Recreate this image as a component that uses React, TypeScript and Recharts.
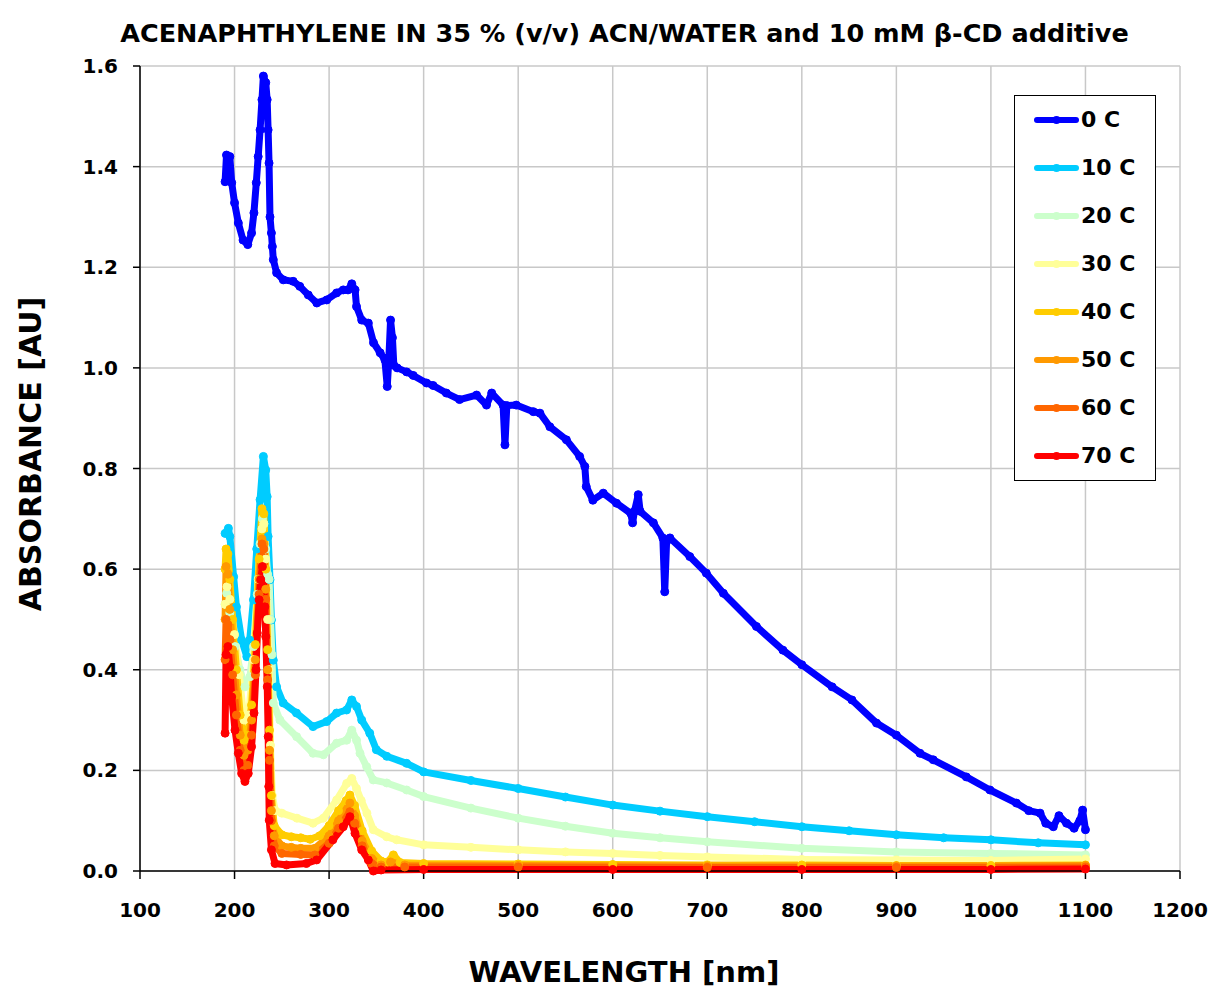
import { LineChart, Line, XAxis, YAxis, CartesianGrid } from 'recharts';

// wavelength [nm] / absorbance [AU] pairs, one pair of arrays per temperature
const wl0 = [190, 191.5, 195, 197, 200, 204, 209, 214, 218, 220.5, 223, 225, 227, 229, 230.5, 233, 234.5, 235.5, 236.5, 237.5, 239, 240, 241, 244.5, 251.5, 262, 269, 278, 287, 297.5, 308, 315, 320, 324, 327.5, 329, 334.5, 341.5, 347, 354, 359, 361.5, 363, 365, 367, 368.5, 372, 382, 389, 403, 410, 424, 438, 456, 466.5, 472, 484, 486, 488, 498, 516, 523, 533.5, 551, 565, 570.5, 572, 579, 590, 604, 619, 621, 623, 627, 629, 643, 653, 655, 657, 660.5, 681.5, 699, 717, 752, 780, 800, 832, 853, 879, 900, 925, 939, 974, 999, 1027, 1040, 1052, 1058, 1066, 1072, 1080, 1088, 1094, 1097, 1100];
const abs0 = [1.37, 1.423, 1.42, 1.368, 1.328, 1.288, 1.254, 1.245, 1.268, 1.308, 1.368, 1.42, 1.473, 1.533, 1.58, 1.567, 1.533, 1.473, 1.407, 1.3, 1.268, 1.241, 1.215, 1.189, 1.175, 1.172, 1.162, 1.145, 1.129, 1.135, 1.149, 1.155, 1.155, 1.167, 1.155, 1.122, 1.095, 1.089, 1.05, 1.03, 1.016, 0.963, 1.01, 1.095, 1.06, 1.005, 1.0, 0.992, 0.985, 0.97, 0.965, 0.95, 0.937, 0.946, 0.926, 0.95, 0.926, 0.847, 0.925, 0.926, 0.913, 0.91, 0.883, 0.857, 0.824, 0.804, 0.764, 0.737, 0.751, 0.731, 0.711, 0.692, 0.715, 0.748, 0.715, 0.692, 0.662, 0.555, 0.655, 0.662, 0.625, 0.592, 0.552, 0.486, 0.439, 0.41, 0.366, 0.34, 0.294, 0.27, 0.234, 0.221, 0.187, 0.161, 0.135, 0.12, 0.115, 0.095, 0.088, 0.11, 0.095, 0.085, 0.1, 0.121, 0.082];

const wl10 = [190, 193.5, 195, 199, 202, 207.5, 213, 216, 220, 223.5, 227, 230.5, 233, 234.5, 235.5, 237.5, 239, 241, 244.5, 251.5, 265.5, 283, 297.5, 308, 318.5, 324, 329, 334.5, 343, 350, 361, 382, 400, 450, 500, 550, 600, 650, 700, 750, 800, 850, 900, 950, 1000, 1050, 1100];
const abs10 = [0.671, 0.681, 0.665, 0.585, 0.525, 0.459, 0.426, 0.459, 0.539, 0.64, 0.738, 0.824, 0.797, 0.744, 0.665, 0.579, 0.499, 0.419, 0.366, 0.334, 0.314, 0.287, 0.297, 0.314, 0.32, 0.34, 0.327, 0.3, 0.274, 0.241, 0.228, 0.214, 0.197, 0.18, 0.164, 0.147, 0.131, 0.119, 0.108, 0.098, 0.088, 0.08, 0.072, 0.066, 0.062, 0.056, 0.052];

const wl20 = [190, 191.7, 195, 200.5, 205.8, 211, 216.3, 220, 224, 227, 229.5, 231, 233, 235, 236.5, 238, 239.5, 241, 248, 265.7, 283, 294, 308, 318.6, 324, 329, 332.7, 339.8, 346.7, 361, 382, 400, 450, 500, 550, 600, 650, 700, 800, 900, 1000, 1100];
const abs20 = [0.53, 0.552, 0.513, 0.446, 0.4, 0.366, 0.386, 0.446, 0.55, 0.65, 0.7, 0.69, 0.64, 0.59, 0.58, 0.5, 0.43, 0.334, 0.3, 0.267, 0.234, 0.231, 0.254, 0.26, 0.28, 0.26, 0.234, 0.207, 0.181, 0.175, 0.161, 0.148, 0.125, 0.105, 0.089, 0.075, 0.066, 0.058, 0.045, 0.038, 0.035, 0.032];

const wl30 = [190, 192, 195, 200, 205, 210, 215, 220, 225, 229, 231, 233, 235, 236.5, 238, 240, 243, 250, 266, 283, 294, 308, 318.6, 324, 329, 334, 340, 346.8, 361, 371.5, 400, 450, 500, 550, 600, 650, 700, 800, 900, 1000, 1100];
const abs30 = [0.53, 0.565, 0.54, 0.47, 0.39, 0.3, 0.31, 0.42, 0.58, 0.68, 0.69, 0.62, 0.5, 0.4, 0.25, 0.15, 0.12, 0.115, 0.105, 0.095, 0.105, 0.141, 0.174, 0.184, 0.164, 0.14, 0.115, 0.082, 0.068, 0.062, 0.052, 0.047, 0.042, 0.038, 0.035, 0.031, 0.028, 0.023, 0.022, 0.021, 0.024];

const wl40 = [190, 191, 193, 195, 198, 202, 206, 210, 214, 218, 222, 226, 229, 231, 233, 235, 237, 239, 242, 250, 260, 270, 280, 290, 300, 310, 318, 322, 327, 335, 345, 355, 362, 368, 375, 400, 500, 600, 700, 800, 900, 1000, 1100];
const abs40 = [0.6, 0.64, 0.63, 0.58, 0.5, 0.4, 0.31, 0.26, 0.27, 0.33, 0.45, 0.62, 0.72, 0.71, 0.6, 0.44, 0.28, 0.15, 0.09, 0.072, 0.068, 0.066, 0.063, 0.07, 0.09, 0.12, 0.14, 0.151, 0.13, 0.08, 0.04, 0.02, 0.018, 0.032, 0.017, 0.015, 0.014, 0.013, 0.012, 0.012, 0.011, 0.011, 0.012];

const wl50 = [190, 191, 193, 195, 198, 202, 206, 210, 214, 218, 222, 226, 229, 231, 233, 235, 237, 239, 242, 250, 260, 270, 285, 300, 310, 322, 327, 335, 345, 355, 365, 380, 500, 700, 900, 1100];
const abs50 = [0.5, 0.605, 0.59, 0.52, 0.44, 0.35, 0.27, 0.23, 0.24, 0.3, 0.42, 0.58, 0.66, 0.65, 0.56, 0.4, 0.24, 0.12, 0.07, 0.05, 0.047, 0.045, 0.045, 0.07, 0.1, 0.135, 0.11, 0.06, 0.025, 0.012, 0.018, 0.012, 0.011, 0.01, 0.01, 0.011];

const wl60 = [190, 191, 193, 195, 198, 202, 206, 210, 214, 218, 222, 226, 229, 231, 233, 235, 237, 239, 242, 250, 270, 285, 300, 310, 322, 327, 335, 345, 355, 380, 500, 700, 900, 1100];
const abs60 = [0.42, 0.5, 0.49, 0.46, 0.39, 0.31, 0.24, 0.2, 0.21, 0.27, 0.39, 0.55, 0.65, 0.64, 0.54, 0.38, 0.22, 0.1, 0.05, 0.035, 0.033, 0.032, 0.055, 0.085, 0.118, 0.095, 0.05, 0.015, 0.008, 0.008, 0.008, 0.007, 0.007, 0.008];

const wl70 = [190, 191, 193, 195, 197, 200.5, 204, 207.5, 211, 214.5, 218, 220.6, 222.7, 224, 226, 227.6, 229.5, 232, 233, 234.6, 235.6, 236.2, 236.7, 239, 242.8, 255, 276, 286.8, 304, 315, 322, 327.4, 334.5, 341.5, 346.8, 355, 400, 600, 800, 1000, 1100];
const abs70 = [0.274, 0.43, 0.446, 0.406, 0.346, 0.28, 0.234, 0.194, 0.178, 0.194, 0.247, 0.314, 0.4, 0.473, 0.539, 0.579, 0.605, 0.525, 0.466, 0.366, 0.267, 0.168, 0.101, 0.042, 0.015, 0.012, 0.015, 0.022, 0.062, 0.088, 0.108, 0.075, 0.042, 0.022, 0.0, 0.002, 0.003, 0.003, 0.003, 0.003, 0.004];

const seriesNames = ['0 C', '10 C', '20 C', '30 C', '40 C', '50 C', '60 C', '70 C'];
const seriesColors = ['#0000ff', '#00ccff', '#ccffcc', '#ffff99', '#ffcc00', '#ff9900', '#ff6600', '#ff0000'];
const wavelengths = [wl0, wl10, wl20, wl30, wl40, wl50, wl60, wl70];
const absorbances = [abs0, abs10, abs20, abs30, abs40, abs50, abs60, abs70];

const xTicks = [100, 200, 300, 400, 500, 600, 700, 800, 900, 1000, 1100, 1200];
const yTicks = [0, 0.2, 0.4, 0.6, 0.8, 1.0, 1.2, 1.4, 1.6];

const FONT = '"DejaVu Sans", sans-serif';

const series = seriesNames.map((name, i) => ({
    name,
    color: seriesColors[i],
    data: wavelengths[i].map((x, j) => ({ x, y: absorbances[i][j] })),
}));

// legend drawn as an overlay so it doesn't eat into the plot area
const LegendBox = () => (
    <div
        style={{
            position: 'absolute',
            left: 1014,
            top: 95,
            width: 140,
            border: '1.5px solid #000',
            background: '#fff',
            fontFamily: FONT,
            fontWeight: 'bold',
            fontSize: 22,
            color: '#000',
        }}
    >
        {series.map((s) => (
            <div key={s.name} style={{ height: 48, display: 'flex', alignItems: 'center' }}>
                <svg width={66} height={48}>
                    <line x1={22} y1={24} x2={61} y2={24} stroke={s.color} strokeWidth={6} strokeLinecap="round" />
                    <circle cx={41.5} cy={24} r={4} fill={s.color} />
                </svg>
                <span style={{ lineHeight: '48px' }}>{s.name}</span>
            </div>
        ))}
    </div>
);

export default function App() {
    return (
        <div style={{ position: 'absolute', left: 0, top: 0, width: 1215, height: 990, background: '#fff' }}>
            <LineChart width={1215} height={990} margin={{ top: 66, right: 35, left: 40, bottom: 59 }}>
                <CartesianGrid stroke="#c8c8c8" strokeWidth={1.5} />
                <XAxis
                    type="number"
                    dataKey="x"
                    domain={[100, 1200]}
                    ticks={xTicks}
                    height={60}
                    stroke="#000"
                    strokeWidth={1.5}
                    tickSize={8}
                    tickMargin={24}
                    tick={{ fontSize: 20, fontWeight: 'bold', fontFamily: FONT, fill: '#000' }}
                />
                <YAxis
                    type="number"
                    dataKey="y"
                    domain={[0, 1.6]}
                    ticks={yTicks}
                    width={100}
                    stroke="#000"
                    strokeWidth={1.5}
                    tickSize={7}
                    tickMargin={15}
                    tickFormatter={(v: number) => v.toFixed(1)}
                    tick={{ fontSize: 20, fontWeight: 'bold', fontFamily: FONT, fill: '#000' }}
                />
                {series.map((s) => (
                    <Line
                        key={s.name}
                        data={s.data}
                        dataKey="y"
                        name={s.name}
                        type="linear"
                        stroke={s.color}
                        strokeWidth={7}
                        strokeLinejoin="round"
                        dot={{ r: 4, fill: s.color, stroke: s.color, strokeWidth: 1 }}
                        isAnimationActive={false}
                    />
                ))}
            </LineChart>
            <LegendBox />
            <svg
                width={1215}
                height={990}
                style={{ position: 'absolute', left: 0, top: 0, pointerEvents: 'none' }}
                fontFamily={FONT}
                fontWeight="bold"
            >
                <text x={624.5} y={41.5} textAnchor="middle" fontSize={25.5} fill="#000">
                    ACENAPHTHYLENE IN 35 % (v/v) ACN/WATER and 10 mM β-CD additive
                </text>
                <text x={624} y={982} textAnchor="middle" fontSize={29} fill="#000">
                    WAVELENGTH [nm]
                </text>
                <text x={41} y={454} textAnchor="middle" fontSize={30} fill="#000" transform="rotate(-90 41 454)">
                    ABSORBANCE [AU]
                </text>
            </svg>
        </div>
    );
}
